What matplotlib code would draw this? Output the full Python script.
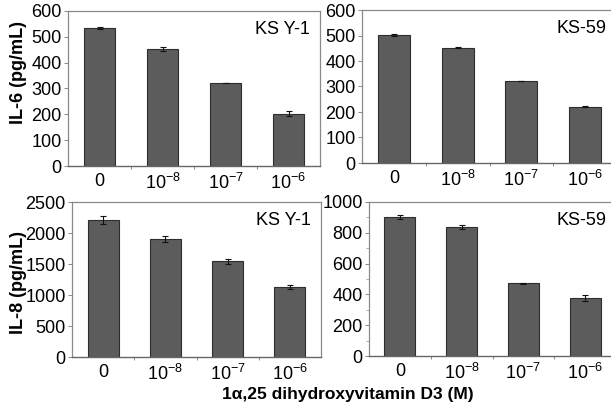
import matplotlib
matplotlib.use("Agg")
import matplotlib.pyplot as plt
from matplotlib.ticker import MultipleLocator, FixedLocator

plt.rcParams['font.family'] = ['Liberation Sans', 'DejaVu Sans']
plt.rcParams['mathtext.fontset'] = 'custom'
plt.rcParams['mathtext.rm'] = 'Liberation Sans'
plt.rcParams['mathtext.default'] = 'regular'

# doses of 1a,25 dihydroxyvitamin D3
doses = ['0', '10$^{-8}$', '10$^{-7}$', '10$^{-6}$']

# IL-6 (pg/mL)
il6_ksy1 = [535, 452, 322, 202]
il6_ksy1_err = [3, 8, 0, 10]
il6_ks59 = [502, 452, 322, 220]
il6_ks59_err = [3, 2, 1, 2]

# IL-8 (pg/mL)
il8_ksy1 = [2205, 1898, 1543, 1129]
il8_ksy1_err = [65, 50, 45, 40]
il8_ks59 = [903, 838, 472, 377]
il8_ks59_err = [15, 15, 5, 18]

W, H = 611, 415
fig = plt.figure(figsize=(W / 100, H / 100), dpi=100)


def box(x0, x1, ytop, ybot):
    return [x0 / W, (H - ybot) / H, (x1 - x0) / W, (ybot - ytop) / H]


panels = [
    (box(68, 320, 11, 166), il6_ksy1, il6_ksy1_err, 'KS Y-1', 600, 100),
    (box(362, 617, 10, 163), il6_ks59, il6_ks59_err, 'KS-59', 600, 100),
    (box(72, 321, 202, 357), il8_ksy1, il8_ksy1_err, 'KS Y-1', 2500, 500),
    (box(369, 616, 202, 356), il8_ks59, il8_ks59_err, 'KS-59', 1000, 200),
]

for pos, vals, errs, name, ymax, step in panels:
    ax = fig.add_axes(pos)
    x = range(len(doses))
    ax.bar(x, vals, width=0.5, color='#5c5c5c', edgecolor='#2e2e2e',
           linewidth=0.8, zorder=2)
    ax.errorbar(x, vals, yerr=errs, fmt='none', ecolor='#111111',
                elinewidth=0.8, capsize=2.5, capthick=0.8, zorder=3)
    ax.set_xlim(-0.5, len(doses) - 0.5)
    ax.set_ylim(0, ymax)
    ax.yaxis.set_major_locator(MultipleLocator(step))
    ax.set_xticks(list(x))
    ax.set_xticklabels(doses)
    ax.xaxis.set_minor_locator(FixedLocator([0.5, 1.5, 2.5]))
    ax.tick_params(axis='x', which='major', length=0, pad=5, labelsize=13)
    ax.tick_params(axis='x', which='minor', length=2.5, width=0.7,
                   color='#888888', direction='out')
    ax.tick_params(axis='y', which='major', length=3, width=0.7,
                   color='#888888', pad=1.5, labelsize=13)
    if ymax == 1000:
        ax.yaxis.set_minor_locator(MultipleLocator(100))
        ax.tick_params(axis='y', which='minor', length=2, width=0.6,
                       color='#999999')
    for side in ['top', 'right', 'left']:
        ax.spines[side].set_color('#8a8a8a')
        ax.spines[side].set_linewidth(0.9)
    ax.spines['bottom'].set_color('#666666')
    ax.spines['bottom'].set_linewidth(1.0)
    ax.text(0.96, 0.88, name, transform=ax.transAxes, ha='right',
            va='center', fontsize=13)

fig.text(19 / W, 1 - 73 / H, 'IL-6 (pg/mL)', rotation=90, ha='center',
         va='center', fontsize=13, fontweight='bold')
fig.text(19 / W, 1 - 283 / H, 'IL-8 (pg/mL)', rotation=90, ha='center',
         va='center', fontsize=13, fontweight='bold')
fig.text(348 / W, 1 - 394 / H, '1α,25 dihydroxyvitamin D3 (M)', ha='center',
         va='center', fontsize=12.5, fontweight='bold')

fig.savefig('out.png', dpi=100)
